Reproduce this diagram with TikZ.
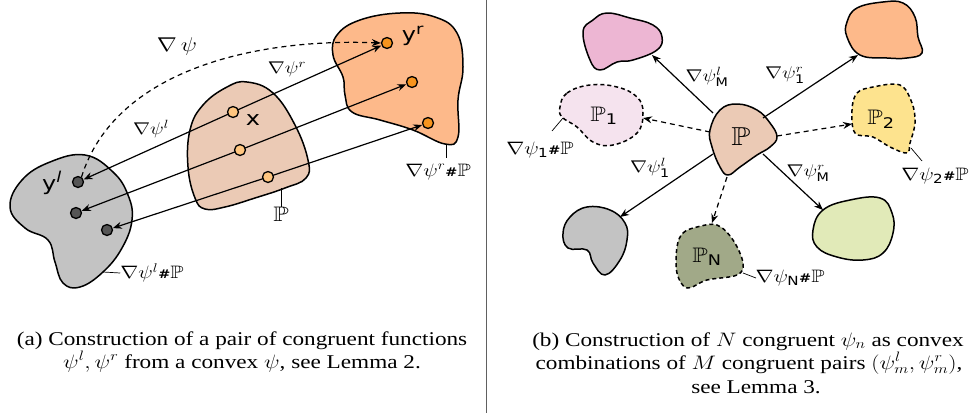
\RequirePackage{fix-cm}
\documentclass[tikz,border=0pt]{standalone}
\usepackage{amsmath,amssymb}
\usepackage{fontspec}
\setmainfont{Liberation Serif}
\newfontfamily\dvs{DejaVu Sans}
\usetikzlibrary{arrows.meta}
\newcommand{\sfsub}[1]{\text{\dvs #1}}
\newcommand{\hashP}{\mbox{\dvs\bfseries\fontsize{12}{12}\selectfont\#}\mathbb{P}}
\newcommand{\hs}[1]{\scalebox{1.2}[1]{#1}}
\definecolor{cgray}{HTML}{C3C3C3}
\definecolor{cpeach}{HTML}{EBCAB5}
\definecolor{corange}{HTML}{FDB98A}
\definecolor{cdgray}{HTML}{555555}
\definecolor{clorange}{HTML}{FFC680}
\definecolor{cdorange}{HTML}{F7941E}
\definecolor{cpink}{HTML}{EDB6D3}
\definecolor{clpink}{HTML}{F5E3EE}
\definecolor{cyellow}{HTML}{FDE38E}
\definecolor{colive}{HTML}{A1A988}
\definecolor{cgreen}{HTML}{E1EAB8}
\tikzset{
  blob/.style={draw=black, line width=1.5pt, line join=round},
  dblob/.style={blob, dash pattern=on 4pt off 3pt},
  arr/.style={line width=1.2pt, -{Stealth[length=9pt,width=7pt,inset=3pt]}},
  darr/.style={arr, dash pattern=on 5pt off 4pt},
  pdot/.style={circle, draw=black, line width=1.3pt, inner sep=0pt, minimum size=11pt},
  albl/.style={inner sep=0pt, font=\fontsize{17}{20}\selectfont},
  lbl/.style={inner sep=0pt, font=\fontsize{18}{20}\selectfont},
  biglbl/.style={inner sep=0pt, font=\fontsize{20}{24}\selectfont},
  plbl/.style={inner sep=0pt, font=\fontsize{21}{24}\selectfont},
  sflbl/.style={inner sep=0pt, font=\dvs\fontsize{20}{22}\selectfont},
  lead/.style={line width=0.7pt},
  captext/.style={inner sep=0pt, anchor=base, font=\fontsize{19.5}{23}\selectfont}
}
\begin{document}
\begin{tikzpicture}[x=1pt,y=-1pt]
\useasboundingbox (0,0) rectangle (969,413);
% ---------------- left panel ----------------
\draw[blob, fill=cgray] plot[smooth cycle, tension=0.7] coordinates {(10,207) (22,180) (50,162) (85,155) (113,172) (128,195) (132,220) (122,248) (103,272) (80,287) (63,283) (55,262) (48,240) (25,228)};
\draw[blob, fill=cpeach] plot[smooth cycle, tension=0.7] coordinates {(188,167) (190,130) (203,105) (227,87) (247,82) (273,93) (295,125) (308,160) (306,178) (285,188) (255,198) (225,207) (205,209) (195,198)};
\draw[blob, fill=corange] plot[smooth cycle, tension=0.7] coordinates {(337,35) (360,20) (400,13) (435,17) (457,33) (463,67) (458,100) (458,137) (445,144) (413,130) (380,120) (352,112) (345,95) (343,77) (333,55)};

\node[pdot, fill=cdgray] (l1) at (78,182) {};
\node[pdot, fill=cdgray] (l2) at (76,213) {};
\node[pdot, fill=cdgray] (l3) at (107,230) {};
\node[pdot, fill=cdorange] (r1) at (387,43) {};
\node[pdot, fill=cdorange] (r2) at (412,82) {};
\node[pdot, fill=cdorange] (r3) at (428,123) {};

\draw[arr] (233,112) coordinate (m1c) -- (r1);
\draw[arr] (m1c) -- (l1);
\draw[arr] (240,150) coordinate (m2c) -- (r2);
\draw[arr] (m2c) -- (l2);
\draw[arr] (268,177) coordinate (m3c) -- (r3);
\draw[arr] (m3c) -- (l3);
\node[pdot, fill=clorange] (m1) at (m1c) {};
\node[pdot, fill=clorange] (m2) at (m2c) {};
\node[pdot, fill=clorange] (m3) at (m3c) {};

\draw[darr] (l1.55) .. controls (115,70) and (255,38) .. (r1.west);

\node[biglbl] (nabpsi) at (177,46) {\hs{$\nabla\,\psi$}};
\node[albl] (labr) at (287,69) {\hs{$\nabla\psi^r$}};
\node[albl] (labl) at (151,129) {\hs{$\nabla\psi^l$}};
\node[sflbl] (yl) at (52,183) {\hs{y\textsuperscript{\fontsize{15}{15}\selectfont\itshape l}}};
\node[sflbl] (xl) at (253,120) {\hs{x}};
\node[sflbl] (yr) at (413,36) {\hs{y\textsuperscript{\fontsize{15}{15}\selectfont r}}};
\node[lbl] (pushl) at (152,273) {\hs{$\nabla\psi^l\hashP$}};
\node[plbl] (pushP) at (281,214) {\hs{$\mathbb{P}$}};
\node[lbl] (pushr) at (438,172) {\hs{$\nabla\psi^r\hashP$}};
\coordinate (pla) at (103,272);
\draw[lead] (pla) -- (pushl.west);
\coordinate (pPa) at (281,188);
\draw[lead] (pPa) -- (pushP.north);
\coordinate (pra) at (446,144);
\draw[lead] (pra) -- (446,158) coordinate (prb);

% separator
\draw[line width=1pt, gray!75!black] (486,0) coordinate (s1) -- (486,413) coordinate (s2);

% ---------------- right panel ----------------
\draw[blob, fill=cpink] plot[smooth cycle, tension=0.7] coordinates {(583,32) (593,20) (607,13) (630,18) (653,25) (662,37) (657,50) (633,60) (617,62) (600,70) (590,60)};
\draw[blob, fill=corange] plot[smooth cycle, tension=0.7] coordinates {(847,22) (857,8) (883,2) (903,3) (915,17) (918,37) (922,53) (907,58) (887,58) (860,55) (847,37)};
\draw[dblob, fill=clpink] plot[smooth cycle, tension=0.7] coordinates {(560,107) (567,93) (590,85) (617,87) (637,97) (643,113) (637,133) (613,145) (593,142) (577,127) (562,117)};
\draw[dblob, fill=cyellow] plot[smooth cycle, tension=0.6] coordinates {(852,110) (857,93) (873,87) (900,85) (912,103) (915,123) (910,143) (907,153) (890,147) (873,137) (855,133)};
\draw[blob, fill=cgray] plot[smooth cycle, tension=0.7] coordinates {(563,233) (570,217) (587,207) (610,210) (625,223) (627,240) (620,260) (605,275) (593,263) (587,250) (568,248)};
\draw[dblob, fill=colive] plot[smooth cycle, tension=0.6] coordinates {(677,247) (683,233) (697,227) (717,225) (733,240) (743,263) (737,275) (707,280) (687,288) (677,273)};
\draw[blob, fill=cgreen] plot[smooth cycle, tension=0.7] coordinates {(813,230) (823,210) (850,200) (880,198) (892,213) (893,233) (883,253) (863,260) (837,257) (817,247)};
\draw[blob, fill=cpeach] plot[smooth cycle, tension=0.7] coordinates {(710,130) (720,110) (737,104) (757,110) (770,123) (777,137) (770,147) (757,155) (740,167) (728,175) (720,167) (712,147)};
\node[inner sep=0pt, font=\fontsize{26}{28}\selectfont] (Pc) at (741,137) {\hs{$\mathbb{P}$}};

\coordinate (Pa) at (713,113);  \coordinate (pinkE) at (652,55);
\coordinate (Pb) at (763,118);  \coordinate (oraE) at (858,55);
\coordinate (Pd) at (713,154);  \coordinate (grayE) at (620,217);
\coordinate (Pe) at (763,154);  \coordinate (grnE) at (823,210);
\coordinate (Pf) at (710,132);  \coordinate (p1E) at (643,118);
\coordinate (Pg) at (777,136);  \coordinate (p2E) at (852,124);
\coordinate (Ph) at (727,177);  \coordinate (pnE) at (712,223);
\draw[arr] (Pa) -- (pinkE);
\draw[arr] (Pb) -- (oraE);
\draw[arr] (Pd) -- (grayE);
\draw[arr] (Pe) -- (grnE);
\draw[darr] (Pf) -- (p1E);
\draw[darr] (Pg) -- (p2E);
\draw[darr] (Ph) -- (pnE);

\node[albl] (lMl) at (707,77) {\hs{$\nabla\psi^l_{\sfsub{M}}$}};
\node[albl] (l1r) at (785,75) {\hs{$\nabla\psi^r_{\sfsub{1}}$}};
\node[albl] (l1l) at (650,168) {\hs{$\nabla\psi^l_{\sfsub{1}}$}};
\node[albl] (lMr) at (808,173) {\hs{$\nabla\psi^r_{\sfsub{M}}$}};
\node[plbl] (P1l) at (604,116) {\hs{$\mathbb{P}_{\sfsub{1}}$}};
\node[plbl] (P2l) at (881,119) {\hs{$\mathbb{P}_{\sfsub{2}}$}};
\node[plbl] (PNl) at (707,257) {\hs{$\mathbb{P}_{\sfsub{N}}$}};
\node[lbl] (push1) at (540,150) {\hs{$\nabla\psi_{\sfsub{1}}\hashP$}};
\node[lbl] (push2) at (935,176) {\hs{$\nabla\psi_{\sfsub{2}}\hashP$}};
\node[lbl] (pushN) at (790,278) {\hs{$\nabla\psi_{\sfsub{N}}\hashP$}};
\coordinate (q1) at (563,118); \draw[lead] (q1) -- (552,131);
\coordinate (q2) at (911,148); \draw[lead] (q2) -- (922,161);
\coordinate (qN) at (743,273); \draw[lead] (qN) -- (756,278);

% ---------------- captions ----------------
\node[captext] (ca1) at (242,345) {\scalebox{1.19}[1]{(a) Construction of a pair of congruent functions}};
\node[captext] (ca2) at (242,368) {\scalebox{1.19}[1]{$\psi^l,\psi^r$ from a convex $\psi$, see Lemma 2.}};
\node[captext] (cb1) at (748,346) {\scalebox{1.19}[1]{(b) Construction of $N$ congruent $\psi_n$ as convex}};
\node[captext] (cb2) at (749,369) {\scalebox{1.19}[1]{combinations of $M$ congruent pairs $(\psi^l_m,\psi^r_m)$,}};
\node[captext] (cb3) at (756,393) {\scalebox{1.19}[1]{see Lemma 3.}};
\end{tikzpicture}
\end{document}
